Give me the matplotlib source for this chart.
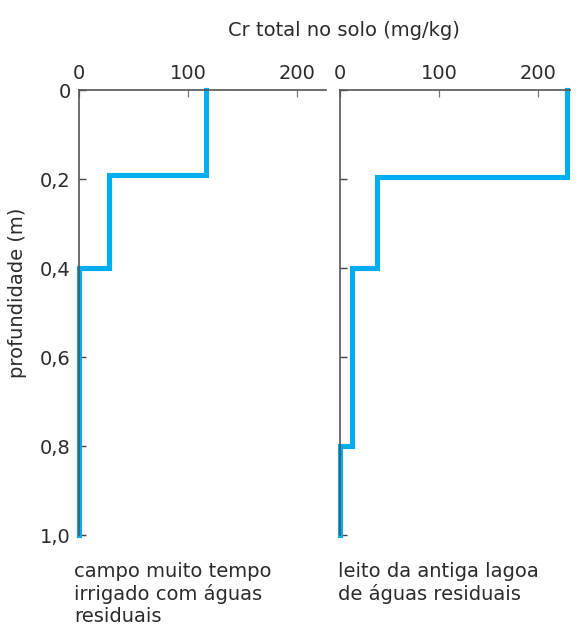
import matplotlib
matplotlib.use("Agg")
import matplotlib.pyplot as plt
import numpy as np

# perfis de Cr total (mg/kg) por profundidade (m)
depth_campo = [0, 0.19, 0.19, 0.4, 0.4, 1.0]
cr_campo = [117, 117, 28, 28, 0, 0]

depth_lagoa = [0, 0.195, 0.195, 0.4, 0.4, 0.8, 0.8, 1.0]
cr_lagoa = [229, 229, 37, 37, 12, 12, 0, 0]

yticks = [0, 0.2, 0.4, 0.6, 0.8, 1.0]
ytick_labels = ["0", "0,2", "0,4", "0,6", "0,8", "1,0"]
xticks = [0, 100, 200]

BLUE = "#00AEEF"
TXT = "#2b2b2b"
plt.rcParams["font.family"] = ["DejaVu Sans"]
plt.rcParams["font.size"] = 14

fig = plt.figure(figsize=(5.84, 6.27), dpi=100)
ax1 = fig.add_axes([0.1353, 0.1467, 0.4229, 0.7093])
ax2 = fig.add_axes([0.5822, 0.1467, 0.3938, 0.7093])


def style(ax, xmax, show_labels):
    ax.set_xlim(0, xmax)
    ax.set_ylim(1.0, 0)
    for s in ["right", "bottom"]:
        ax.spines[s].set_visible(False)
    for s in ["left", "top"]:
        ax.spines[s].set_color("#555555")
        ax.spines[s].set_linewidth(1.2)
        ax.spines[s].set_zorder(5)
    ax.xaxis.tick_top()
    ax.set_xticks(xticks)
    ax.set_xticklabels([str(t) for t in xticks], color=TXT)
    ax.set_yticks(yticks)
    if show_labels:
        ax.set_yticklabels(ytick_labels, color=TXT)
    else:
        ax.set_yticklabels([])
    ax.tick_params(axis="x", direction="in", length=5, width=0.9,
                   color="#777777", pad=5)
    ax.tick_params(axis="y", direction="in", length=5, width=1.0,
                   color="#444444", pad=6)


ax1.plot(cr_campo, depth_campo, color=BLUE, lw=3.7, clip_on=False,
         solid_joinstyle="miter", zorder=3)
ax2.plot(cr_lagoa, depth_lagoa, color=BLUE, lw=3.7, clip_on=False,
         solid_joinstyle="miter", zorder=3)

style(ax1, 227, True)
style(ax2, 232, False)

ax1.set_ylabel("profundidade (m)", color=TXT)
ax1.yaxis.set_label_coords(-0.21, 0.544)

fig.text(0.589, 0.952, "Cr total no solo (mg/kg)", ha="center", va="center",
         color=TXT)

fig.text(0.127, 0.053, "campo muito tempo\nirrigado com águas\nresiduais",
         ha="left", va="center", color=TXT, linespacing=1.2)
fig.text(0.578, 0.07, "leito da antiga lagoa\nde águas residuais",
         ha="left", va="center", color=TXT, linespacing=1.2)

fig.savefig("out.png", dpi=100)
